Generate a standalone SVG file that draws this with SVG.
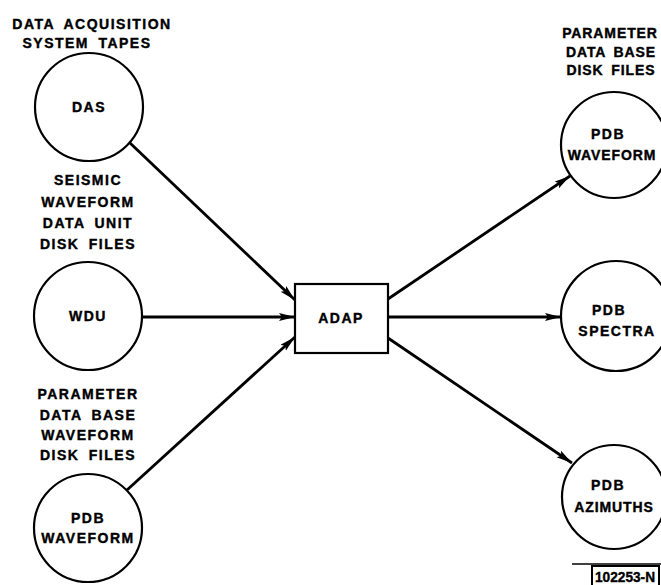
<svg xmlns="http://www.w3.org/2000/svg" width="661" height="585" viewBox="0 0 661 585">
<style>
text{font-family:"Liberation Sans",Arial,sans-serif;font-weight:bold;font-size:14px;letter-spacing:1.5px;word-spacing:4px;fill:#000;stroke:#000;stroke-width:0.4;text-anchor:middle}
.rl{letter-spacing:0.9px;word-spacing:3px}
.node circle,.node rect{fill:none;stroke:#000;stroke-width:2.2}
#connectors line{stroke:#000;stroke-width:2.8;fill:none}
</style>
<defs>
<marker id="ah" markerUnits="userSpaceOnUse" markerWidth="18" markerHeight="10" refX="16" refY="4" orient="auto">
<path d="M0,0 L16,4 L0,8 L3,4 z" fill="#000"/>
</marker>
</defs>
<rect width="661" height="585" fill="#fff"/>

<g id="labels-left">
<text x="92" y="29">DATA ACQUISITION</text>
<text x="87" y="48">SYSTEM TAPES</text>
<text x="88" y="185">SEISMIC</text>
<text x="88" y="207">WAVEFORM</text>
<text x="88" y="228">DATA UNIT</text>
<text x="88" y="249">DISK FILES</text>
<text x="88" y="399">PARAMETER</text>
<text x="88" y="420">DATA BASE</text>
<text x="88" y="440">WAVEFORM</text>
<text x="88" y="460">DISK FILES</text>
</g>
<g id="labels-right">
<text class="rl" x="610" y="38">PARAMETER</text>
<text class="rl" x="611" y="57">DATA BASE</text>
<text class="rl" x="611" y="75">DISK FILES</text>
</g>

<g id="das" class="node">
<circle cx="89" cy="107" r="54"/>
<text x="89" y="112">DAS</text>
</g>
<g id="wdu" class="node">
<circle cx="88" cy="316" r="54"/>
<text x="88" y="321">WDU</text>
</g>
<g id="pdb-waveform-in" class="node">
<circle cx="88" cy="528" r="54"/>
<text x="88" y="523">PDB</text>
<text x="88" y="543">WAVEFORM</text>
</g>
<g id="adap" class="node">
<rect x="295" y="284" width="93" height="69"/>
<text x="341" y="323">ADAP</text>
</g>
<g id="pdb-waveform-out" class="node">
<circle cx="614" cy="145" r="53"/>
<text x="608" y="139">PDB</text>
<text class="rl" x="612" y="160">WAVEFORM</text>
</g>
<g id="pdb-spectra" class="node">
<circle cx="616" cy="316" r="55"/>
<text x="609" y="315">PDB</text>
<text x="617" y="336">SPECTRA</text>
</g>
<g id="pdb-azimuths" class="node">
<circle cx="614" cy="497" r="52"/>
<text x="608" y="490">PDB</text>
<text class="rl" x="614" y="512">AZIMUTHS</text>
</g>

<g id="connectors">
<line x1="130" y1="143" x2="295" y2="300" marker-end="url(#ah)"/>
<line x1="142" y1="317" x2="295" y2="317" marker-end="url(#ah)"/>
<line x1="127" y1="490" x2="295" y2="337" marker-end="url(#ah)"/>
<line x1="388" y1="299" x2="570" y2="176" marker-end="url(#ah)"/>
<line x1="388" y1="317" x2="561" y2="317" marker-end="url(#ah)"/>
<line x1="388" y1="338" x2="572" y2="463" marker-end="url(#ah)"/>
</g>

<g id="figure-number">
<line x1="572" y1="564" x2="661" y2="564" stroke="#000" stroke-width="1.5"/>
<path d="M592,585 L592,566 L659,566 L659,585" fill="none" stroke="#000" stroke-width="2"/>
<text x="625" y="582" textLength="60" lengthAdjust="spacingAndGlyphs" style="font-size:15px;letter-spacing:0">102253-N</text>
</g>
</svg>
